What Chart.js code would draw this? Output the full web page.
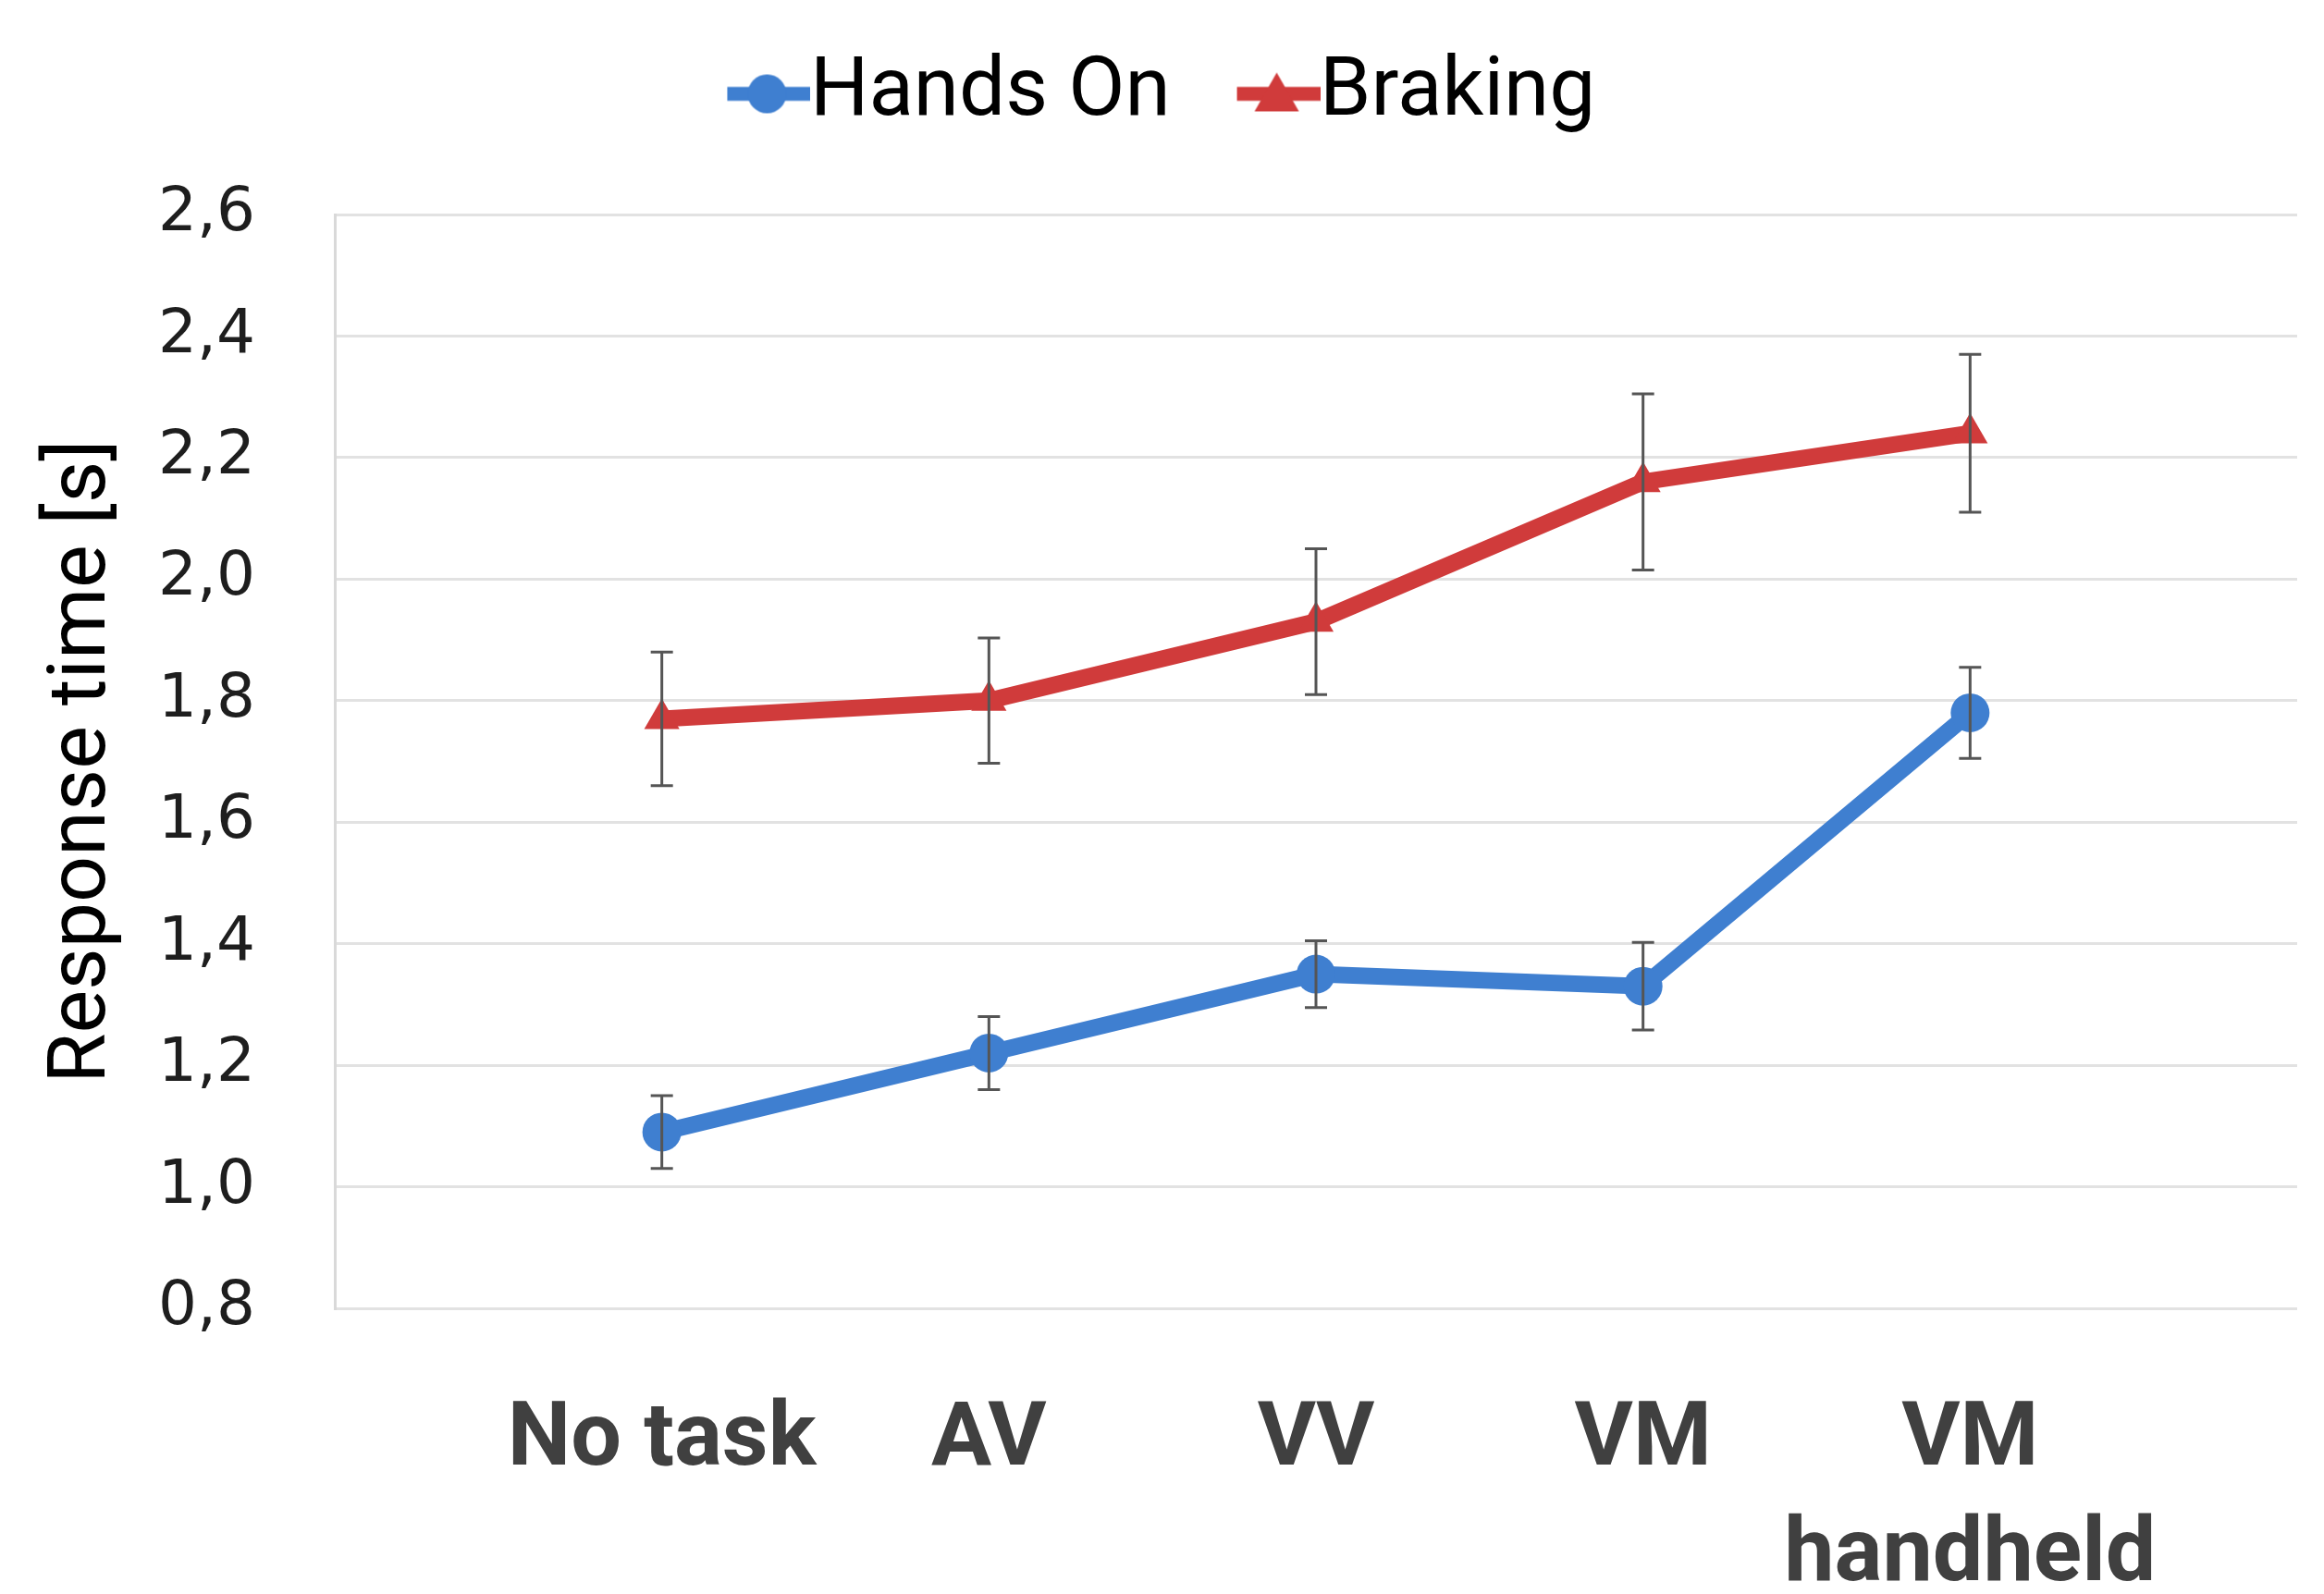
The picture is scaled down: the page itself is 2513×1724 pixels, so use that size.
<!DOCTYPE html>
<html lang="en">
<head>
    <meta charset="UTF-8">
    <title>Response time</title>
    <script src="https://cdn.jsdelivr.net/npm/chart.js"></script>
    <style>
        html, body { margin: 0; padding: 0; background: #ffffff; }
        #wrap { width: 2513px; height: 1724px; }
    </style>
</head>
<body>
    <div id="wrap"><canvas id="chart"></canvas></div>

    <script>
        // empty slots at both ends give the half-empty margins of the original
        const categories = ['', 'No task', 'AV', 'VV', 'VM', ['VM', 'handheld'], ''];
        const handsOn    = [null, 1.09, 1.22, 1.35, 1.33, 1.78, null];
        const handsOnErr = [null, 0.06, 0.06, 0.055, 0.072, 0.075, null];
        const braking    = [null, 1.77, 1.80, 1.93, 2.16, 2.24, null];
        const brakingErr = [null, 0.11, 0.103, 0.12, 0.145, 0.13, null];
        const yTicks = [0.8, 1.0, 1.2, 1.4, 1.6, 1.8, 2.0, 2.2, 2.4, 2.6];

        const blue = '#3f7fd0';
        const red = '#d03b3b';

        // little line + marker picture used as legend symbol
        function legendIcon(color, style) {
            const c = document.createElement('canvas');
            c.width = 178;
            c.height = 52;
            const g = c.getContext('2d');
            g.strokeStyle = color;
            g.fillStyle = color;
            g.lineWidth = 15;
            g.beginPath();
            g.moveTo(88, 26);
            g.lineTo(178, 26);
            g.stroke();
            g.beginPath();
            if (style === 'circle') {
                g.arc(131, 26, 21, 0, Math.PI * 2);
            } else {
                g.moveTo(131, 3);
                g.lineTo(155, 45);
                g.lineTo(107, 45);
                g.closePath();
            }
            g.fill();
            return c;
        }
        const icons = [legendIcon(blue, 'circle'), legendIcon(red, 'triangle')];

        const errorBars = {
            id: 'errorBars',
            afterDatasetsDraw(chart) {
                const ctx = chart.ctx;
                const x = chart.scales.x;
                const y = chart.scales.y;
                const sets = [[handsOn, handsOnErr], [braking, brakingErr]];
                ctx.save();
                ctx.strokeStyle = '#555555';
                ctx.lineWidth = 3;
                sets.forEach(([vals, errs]) => {
                    vals.forEach((v, i) => {
                        if (v === null) return;
                        const px = x.getPixelForValue(i);
                        const top = y.getPixelForValue(v + errs[i]);
                        const bot = y.getPixelForValue(v - errs[i]);
                        ctx.beginPath();
                        ctx.moveTo(px, top); ctx.lineTo(px, bot);
                        ctx.moveTo(px - 12, top); ctx.lineTo(px + 12, top);
                        ctx.moveTo(px - 12, bot); ctx.lineTo(px + 12, bot);
                        ctx.stroke();
                    });
                });
                ctx.restore();
            }
        };

        new Chart(document.getElementById('chart'), {
            type: 'line',
            data: {
                labels: categories,
                datasets: [{
                    label: 'Hands On',
                    data: handsOn,
                    borderColor: blue,
                    backgroundColor: blue,
                    borderWidth: 18,
                    pointStyle: 'circle',
                    pointRadius: 21,
                    pointBorderWidth: 0
                }, {
                    label: 'Braking',
                    data: braking,
                    borderColor: red,
                    backgroundColor: red,
                    borderWidth: 18,
                    pointStyle: 'triangle',
                    pointRadius: 22,
                    pointBorderWidth: 0
                }]
            },
            options: {
                responsive: true,
                maintainAspectRatio: false,
                animation: false,
                layout: { padding: { top: 28, left: 30, right: 29, bottom: 0 } },
                plugins: {
                    tooltip: { enabled: false },
                    legend: {
                        position: 'top',
                        labels: {
                            usePointStyle: true,
                            pointStyleWidth: 88,
                            padding: 29,
                            color: '#000000',
                            font: { family: 'Roboto', size: 89 },
                            // trailing en space nudges the centred block left like the original
                            generateLabels: chart => chart.data.datasets.map((ds, i) => ({
                                text: i === chart.data.datasets.length - 1 ? ds.label + '\u2002' : ds.label,
                                pointStyle: icons[i],
                                fillStyle: ds.borderColor,
                                strokeStyle: ds.borderColor,
                                lineWidth: 0,
                                fontColor: '#000000',
                                hidden: false,
                                datasetIndex: i
                            }))
                        }
                    }
                },
                scales: {
                    x: {
                        grid: { display: false, drawTicks: false },
                        border: { display: false },
                        ticks: {
                            padding: 82,
                            color: '#404040',
                            maxRotation: 0,
                            autoSkip: false,
                            font: { family: 'Roboto', size: 97, weight: 'bold', lineHeight: 1.29 }
                        },
                        afterFit: s => {
                            s.height = 309;
                            s.paddingLeft = 0;
                            s.paddingRight = 0;
                        }
                    },
                    xTop: {
                        type: 'category',
                        position: 'top',
                        grid: { display: false, drawTicks: false },
                        border: { display: false },
                        ticks: { display: false },
                        afterFit: s => {
                            s.height = 76;
                            s.paddingLeft = 0;
                            s.paddingRight = 0;
                        }
                    },
                    y: {
                        min: 0.8,
                        max: 2.6,
                        afterBuildTicks: s => { s.ticks = yTicks.map(v => ({ value: v })); },
                        grid: { color: '#e2e2e2', lineWidth: 3, drawTicks: false },
                        border: { display: true, color: '#d9d9d9', width: 3 },
                        ticks: {
                            padding: 86,
                            color: '#1e1e1e',
                            font: { family: 'DejaVu Sans', size: 66 },
                            callback: v => v.toFixed(1).replace('.', ',')
                        },
                        title: {
                            display: true,
                            text: 'Response time [s]',
                            color: '#000000',
                            font: { family: 'Roboto', size: 88 },
                            padding: { top: 8, bottom: 0 }
                        },
                        afterFit: s => { s.width = 332; }
                    }
                }
            },
            plugins: [errorBars]
        });
    </script>
</body>
</html>
